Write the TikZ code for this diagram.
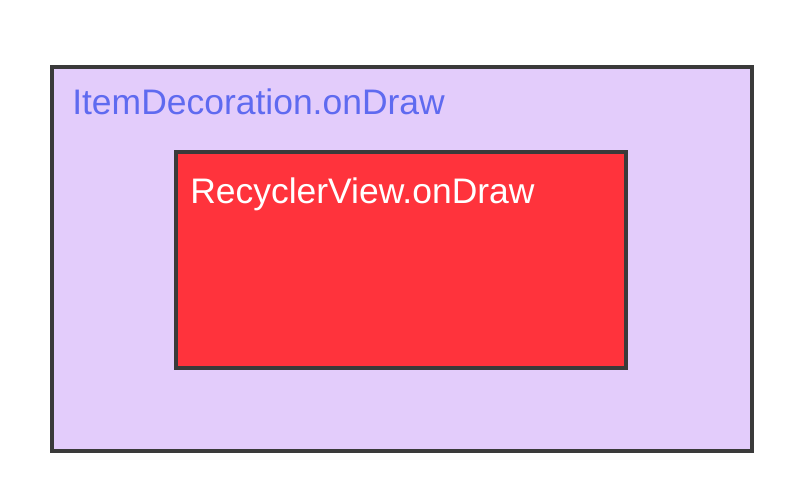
\documentclass[tikz,border=0pt]{standalone}
\usepackage{fontspec}
\setmainfont{Liberation Sans}
\definecolor{outerfill}{HTML}{E3CCFB}
\definecolor{innerfill}{HTML}{FF333C}
\definecolor{edge}{HTML}{3A3A3A}
\definecolor{bluetext}{HTML}{5F6AF0}
\begin{document}
\begin{tikzpicture}[x=0.75pt,y=-0.75pt,
  boxframe/.style={draw=edge,line width=2.4pt},
  lbl/.style={anchor=base west,inner sep=0pt,font=\fontsize{26.6}{32}\selectfont}]
\useasboundingbox (0,0) rectangle (802,500);
\fill[white] (0,0) rectangle (802,500);
\draw[boxframe,fill=outerfill] (52,67) rectangle (752,451);
\draw[boxframe,fill=innerfill] (176,152) rectangle (626,368);
\node[lbl,text=bluetext] (outerlabel) at (72,114) {ItemDecoration.onDraw};
\node[lbl,text=white] (innerlabel) at (190,203) {RecyclerView.onDraw};
\end{tikzpicture}
\end{document}
